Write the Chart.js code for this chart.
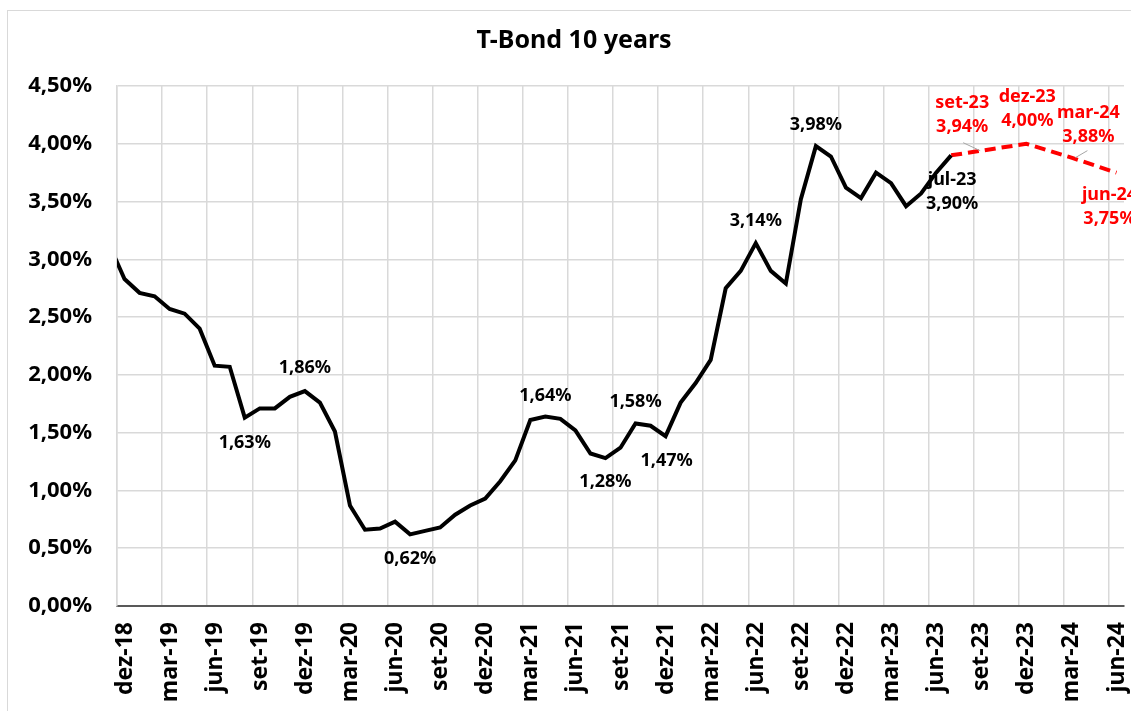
<!DOCTYPE html>
<html>
<head>
<meta charset="utf-8">
<script src="https://cdn.jsdelivr.net/npm/chart.js@4.4.1/dist/chart.umd.min.js"></script>
<style>
  html, body { margin: 0; padding: 0; background: #fff; overflow: hidden; }
  #frame { position: absolute; left: 7px; top: 10px; width: 1132px; height: 720px; border: 1px solid #d9d9d9; }
</style>
</head>
<body>
<div id="frame"><canvas id="myChart"></canvas></div>
<script>
const monthNames = ['jan', 'fev', 'mar', 'abr', 'mai', 'jun', 'jul', 'ago', 'set', 'out', 'nov', 'dez'];

// monthly categories, nov-18 .. jun-24 (axis starts at dez-18)
const allMonths = [];
for (let y = 2018; y <= 2024; y++) {
    for (let m = 0; m < 12; m++) {
        if (y === 2018 && m < 10) continue;
        if (y === 2024 && m > 5) continue;
        allMonths.push(monthNames[m] + '-' + String(y).slice(2));
    }
}

// T-Bond 10y, monthly, nov-18 .. jul-23
const yieldValues = [
    3.12, 2.83,
    2.71, 2.68, 2.57, 2.53, 2.40, 2.08, 2.07, 1.63, 1.71, 1.71, 1.81, 1.86,
    1.76, 1.51, 0.87, 0.66, 0.67, 0.73, 0.62, 0.65, 0.68, 0.79, 0.87, 0.93,
    1.08, 1.26, 1.61, 1.64, 1.62, 1.52, 1.32, 1.28, 1.37, 1.58, 1.56, 1.47,
    1.76, 1.93, 2.13, 2.75, 2.90, 3.14, 2.90, 2.79, 3.52, 3.98, 3.89, 3.62,
    3.53, 3.75, 3.66, 3.46, 3.57, 3.75, 3.90
];

// projection
const forecastMonths = ['jul-23', 'set-23', 'dez-23', 'mar-24', 'jun-24'];
const forecastValues = [3.90, 3.94, 4.00, 3.88, 3.75];

// x ticks every 3 months, dez-18 .. jun-24
const xTickMonths = ['dez-18', 'mar-19', 'jun-19', 'set-19', 'dez-19', 'mar-20', 'jun-20', 'set-20',
    'dez-20', 'mar-21', 'jun-21', 'set-21', 'dez-21', 'mar-22', 'jun-22', 'set-22', 'dez-22',
    'mar-23', 'jun-23', 'set-23', 'dez-23', 'mar-24', 'jun-24'];

// month -> position on the axis (tick at start of month, point mid-month)
const startOf = m => allMonths.indexOf(m) - 1;
const posOf = m => startOf(m) + 0.5;

const pct = v => v.toFixed(2).replace('.', ',') + '%';

const labelSpecs = [
    { ds: 0, month: 'ago-19', dx: 0, dy: 25 },
    { ds: 0, month: 'dez-19', dx: 0, dy: -23 },
    { ds: 0, month: 'jul-20', dx: 0, dy: 25 },
    { ds: 0, month: 'abr-21', dx: 0, dy: -21 },
    { ds: 0, month: 'ago-21', dx: 0, dy: 24 },
    { ds: 0, month: 'out-21', dx: 0, dy: -22 },
    { ds: 0, month: 'dez-21', dx: 1, dy: 25 },
    { ds: 0, month: 'jun-22', dx: 0, dy: -22 },
    { ds: 0, month: 'out-22', dx: 0, dy: -21 },
    { ds: 0, month: 'jul-23', dx: 1, dy: 25, withMonth: true },
    { ds: 1, month: 'set-23', dx: -19, dy: -48, withMonth: true, leader: [-18, -8, -1, 0] },
    { ds: 1, month: 'dez-23', dx: 1, dy: -47, withMonth: true },
    { ds: 1, month: 'mar-24', dx: 17, dy: -45, withMonth: true, leader: [16, -7, 4, 0] },
    { ds: 1, month: 'jun-24', dx: -7, dy: 22, withMonth: true }
];

const pointLabels = {
    id: 'pointLabels',
    afterDatasetsDraw(chart) {
        const ctx = chart.ctx;
        ctx.save();
        ctx.font = 'bold 18px "Noto Sans"';
        ctx.textAlign = 'center';
        ctx.textBaseline = 'middle';
        labelSpecs.forEach(s => {
            const months = s.ds === 0 ? allMonths : forecastMonths;
            const values = s.ds === 0 ? yieldValues : forecastValues;
            const idx = months.indexOf(s.month);
            const el = chart.getDatasetMeta(s.ds).data[idx];
            if (!el) return;
            const color = s.ds === 0 ? '#000' : '#ff0000';
            if (s.leader) {
                ctx.strokeStyle = '#a6a6a6';
                ctx.lineWidth = 1;
                ctx.beginPath();
                ctx.moveTo(el.x + s.leader[0], el.y + s.leader[1]);
                ctx.lineTo(el.x + s.leader[2], el.y + s.leader[3]);
                ctx.stroke();
            }
            ctx.fillStyle = color;
            const lines = s.withMonth ? [s.month, pct(values[idx])] : [pct(values[idx])];
            lines.forEach((t, k) => {
                ctx.fillText(t, el.x + s.dx, el.y + s.dy + k * 24);
            });
        });
        ctx.restore();
    }
};

const data = {
    datasets: [
        {
            label: 'T-Bond 10y',
            data: yieldValues.map((v, i) => ({ x: posOf(allMonths[i]), y: v })),
            borderColor: '#000',
            borderWidth: 4,
            pointRadius: 0,
            tension: 0
        },
        {
            label: 'Projeção',
            data: forecastValues.map((v, i) => ({ x: posOf(forecastMonths[i]), y: v })),
            borderColor: '#ff0000',
            borderWidth: 4,
            borderDash: [11, 6],
            pointRadius: 0,
            tension: 0
        }
    ]
};

const config = {
    type: 'line',
    data: data,
    plugins: [pointLabels],
    options: {
        responsive: true,
        maintainAspectRatio: false,
        animation: false,
        layout: { padding: 0 },
        plugins: {
            legend: { display: false },
            tooltip: { enabled: false },
            title: {
                display: true,
                text: 'T-Bond 10 years',
                color: '#000',
                font: { family: 'Noto Sans', size: 25, weight: 'bold' },
                padding: { top: 15, bottom: 30 }
            }
        },
        scales: {
            x: {
                type: 'linear',
                min: 0,
                max: 67,
                afterBuildTicks: scale => {
                    scale.ticks = xTickMonths.map(m => ({ value: startOf(m) }));
                },
                afterFit: scale => {
                    scale.height = 125;
                    scale.paddingLeft = 0;
                    scale.paddingRight = 16;
                },
                grid: { color: '#d9d9d9', lineWidth: 1.5, drawTicks: false },
                border: { color: '#595959', width: 2 },
                ticks: {
                    autoSkip: false,
                    minRotation: 90,
                    maxRotation: 90,
                    labelOffset: 8,
                    padding: 16,
                    color: '#000',
                    font: { family: 'Noto Sans', size: 23, weight: 'bold' },
                    callback: v => allMonths[v + 1]
                }
            },
            y: {
                min: 0,
                max: 4.5,
                afterFit: scale => { scale.width = 109; },
                grid: { color: '#d9d9d9', lineWidth: 1.5, drawTicks: false },
                border: { color: '#d9d9d9', width: 1.5 },
                ticks: {
                    stepSize: 0.5,
                    padding: 25,
                    color: '#000',
                    font: { family: 'Noto Sans', size: 22, weight: 'bold' },
                    callback: v => pct(v)
                }
            }
        }
    }
};

const myChart = new Chart(
    document.getElementById('myChart'),
    config
);
</script>
</body>
</html>
